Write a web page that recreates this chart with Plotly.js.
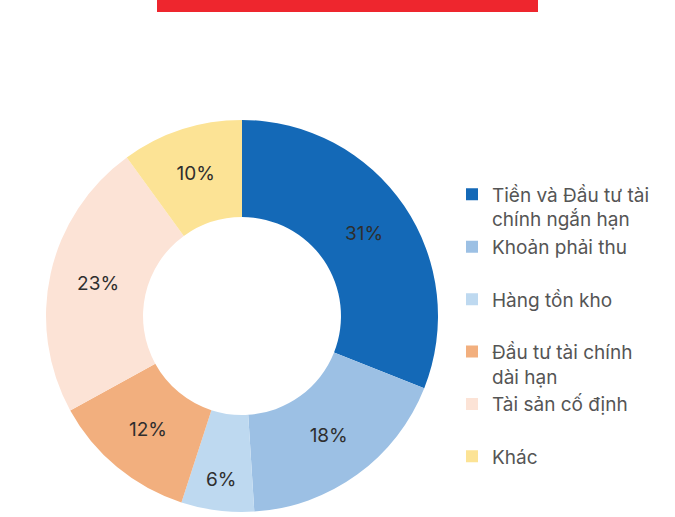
<!DOCTYPE html>
<html>
<head>
<meta charset="utf-8">
<script src="https://cdn.plot.ly/plotly-3.0.1.min.js"></script>
<style>html,body{margin:0;padding:0;background:#fff;}#chart{width:675px;height:517px;}</style>
</head>
<body>
<div id="chart"></div>
<script>
const categories = [
  "Tiền và Đầu tư tài<br>chính ngắn hạn",
  "Khoản phải thu<br>&nbsp;",
  "Hàng tồn kho<br>&nbsp;",
  "Đầu tư tài chính<br>dài hạn",
  "Tài sản cố định<br>&nbsp;",
  "Khác<br>&nbsp;"
];
const values = [31, 18, 6, 12, 23, 10];
const colors = ["#1469B7", "#9CC0E4", "#BED9F0", "#F2AF7E", "#FCE3D6", "#FCE395"];

const trace = {
  type: "pie",
  labels: categories,
  values: values,
  sort: false,
  direction: "clockwise",
  rotation: 0,
  hole: 0.505,
  marker: {colors: colors, line: {width: 0}},
  textinfo: "percent",
  texttemplate: "%{percent:.0%}",
  textposition: "inside",
  insidetextorientation: "horizontal",
  textfont: {family: "Inter, Roboto, sans-serif", size: 19, color: "#2E2E2E"},
  domain: {x: [46/675, 438/675], y: [1 - 512/517, 1 - 120/517]},
  hoverinfo: "label+percent"
};

const layout = {
  width: 675,
  height: 517,
  margin: {l: 0, r: 0, t: 0, b: 0},
  paper_bgcolor: "#ffffff",
  showlegend: true,
  legend: {
    x: 452/675, xanchor: "left",
    y: 1 - 175.5/517, yanchor: "top",
    valign: "top",
    font: {family: "Inter, Roboto, sans-serif", size: 19, color: "#555555"},
    bgcolor: "rgba(0,0,0,0)",
    traceorder: "normal"
  },
  shapes: [{
    type: "rect", xref: "paper", yref: "paper",
    x0: 157/675, x1: 538/675, y0: 1 - 12/517, y1: 1,
    fillcolor: "#EE262E", line: {width: 0}, layer: "above"
  }]
};

Plotly.newPlot("chart", [trace], layout, {displayModeBar: false, staticPlot: true});
</script>
</body>
</html>
